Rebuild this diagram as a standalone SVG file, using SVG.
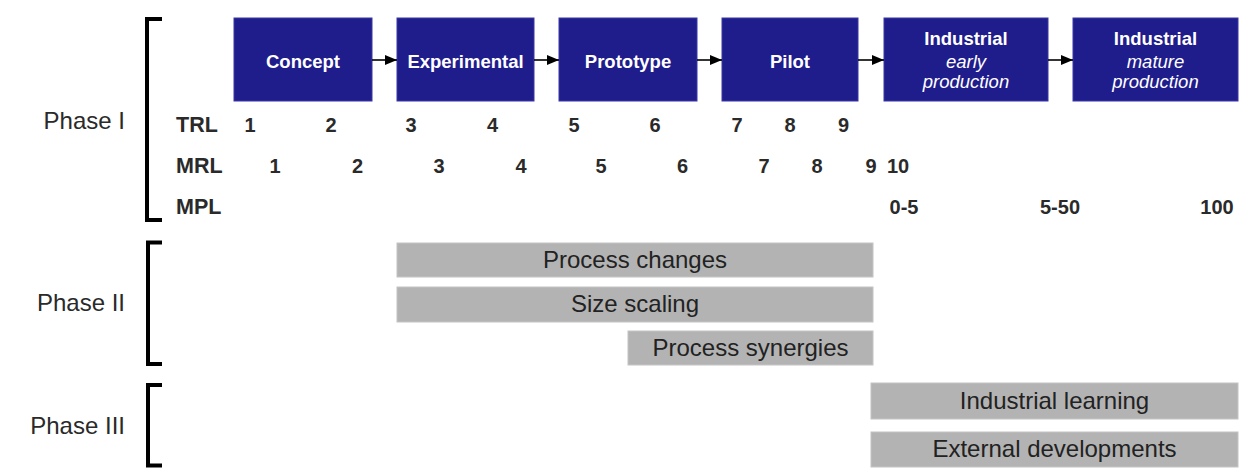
<svg xmlns="http://www.w3.org/2000/svg" width="1252" height="475" viewBox="0 0 1252 475">
  <style>
    .stage { fill: #1f1c8c; stroke: #3a38a4; stroke-width: 1; }
    .stage-title { font-family: "Liberation Sans", Arial, sans-serif; font-size: 18.5px; font-weight: bold; fill: #ffffff; text-anchor: middle; }
    .stage-sub { font-family: "Liberation Sans", Arial, sans-serif; font-size: 18.5px; font-style: italic; fill: #ffffff; text-anchor: middle; }
    .bar { fill: #b3b3b3; stroke: #c4c4c4; stroke-width: 1; }
    .bar-text { font-family: "Liberation Sans", Arial, sans-serif; font-size: 24px; fill: #222222; text-anchor: middle; }
    .phase { font-family: "Liberation Sans", Arial, sans-serif; font-size: 24px; fill: #2a2a2a; text-anchor: end; }
    .bracket { fill: none; stroke: #000000; stroke-width: 4; stroke-linejoin: miter; }
    .row-label { font-family: "Liberation Sans", Arial, sans-serif; font-size: 21.5px; font-weight: bold; fill: #2a2a2a; }
    .num { font-family: "Liberation Sans", Arial, sans-serif; font-size: 20px; font-weight: bold; fill: #2a2a2a; text-anchor: middle; }
    .link { stroke: #000000; stroke-width: 1.6; fill: none; marker-end: url(#head); }
  </style>
  <defs>
    <marker id="head" markerWidth="12" markerHeight="10" refX="12" refY="5" orient="auto" markerUnits="userSpaceOnUse">
      <path d="M0,0 L12,5 L0,10 Z" fill="#000000"/>
    </marker>
  </defs>

  <rect width="1252" height="475" fill="#ffffff"/>

  <!-- Phase brackets and labels -->
  <g id="phase-1">
    <path class="bracket" d="M162,19 H147 V220 H162"/>
    <text class="phase" x="125" y="129">Phase I</text>
  </g>
  <g id="phase-2">
    <path class="bracket" d="M162,242.5 H148 V364 H162"/>
    <text class="phase" x="125" y="311">Phase II</text>
  </g>
  <g id="phase-3">
    <path class="bracket" d="M162,385 H148 V465.5 H162"/>
    <text class="phase" x="125" y="434">Phase III</text>
  </g>

  <!-- Stage boxes -->
  <g id="concept">
    <rect class="stage" x="234" y="18" width="138" height="83"/>
    <text class="stage-title" x="303" y="68">Concept</text>
  </g>
  <g id="experimental">
    <rect class="stage" x="397" y="18" width="137" height="83"/>
    <text class="stage-title" x="465.5" y="68">Experimental</text>
  </g>
  <g id="prototype">
    <rect class="stage" x="559" y="18" width="138" height="83"/>
    <text class="stage-title" x="628" y="68">Prototype</text>
  </g>
  <g id="pilot">
    <rect class="stage" x="722" y="18" width="136" height="83"/>
    <text class="stage-title" x="790" y="68">Pilot</text>
  </g>
  <g id="industrial-early">
    <rect class="stage" x="884" y="18" width="164" height="83"/>
    <text class="stage-title" x="966" y="45">Industrial</text>
    <text class="stage-sub" x="966" y="68">early</text>
    <text class="stage-sub" x="966" y="88">production</text>
  </g>
  <g id="industrial-mature">
    <rect class="stage" x="1073" y="18" width="165" height="83"/>
    <text class="stage-title" x="1155.5" y="45">Industrial</text>
    <text class="stage-sub" x="1155.5" y="68">mature</text>
    <text class="stage-sub" x="1155.5" y="88">production</text>
  </g>

  <!-- Connectors between stages -->
  <g id="connectors">
    <line class="link" x1="372" y1="60" x2="397" y2="60"/>
    <line class="link" x1="534" y1="60" x2="559" y2="60"/>
    <line class="link" x1="697" y1="60" x2="722" y2="60"/>
    <line class="link" x1="858" y1="60" x2="884" y2="60"/>
    <line class="link" x1="1048" y1="60" x2="1073" y2="60"/>
  </g>

  <!-- Readiness scales -->
  <g id="trl">
    <text class="row-label" x="176" y="132">TRL</text>
    <text class="num" x="250" y="132">1</text>
    <text class="num" x="331" y="132">2</text>
    <text class="num" x="411" y="132">3</text>
    <text class="num" x="492.5" y="132">4</text>
    <text class="num" x="574" y="132">5</text>
    <text class="num" x="655" y="132">6</text>
    <text class="num" x="737" y="132">7</text>
    <text class="num" x="790" y="132">8</text>
    <text class="num" x="843.5" y="132">9</text>
  </g>
  <g id="mrl">
    <text class="row-label" x="176" y="173">MRL</text>
    <text class="num" x="275" y="173">1</text>
    <text class="num" x="357.5" y="173">2</text>
    <text class="num" x="439" y="173">3</text>
    <text class="num" x="521" y="173">4</text>
    <text class="num" x="601" y="173">5</text>
    <text class="num" x="682.5" y="173">6</text>
    <text class="num" x="764" y="173">7</text>
    <text class="num" x="817" y="173">8</text>
    <text class="num" x="871" y="173">9</text>
    <text class="num" x="898" y="173">10</text>
  </g>
  <g id="mpl">
    <text class="row-label" x="176" y="214">MPL</text>
    <text class="num" x="904" y="214">0-5</text>
    <text class="num" x="1060" y="214">5-50</text>
    <text class="num" x="1217" y="214">100</text>
  </g>

  <!-- Phase II activities -->
  <g id="process-changes">
    <rect class="bar" x="397" y="243" width="476" height="34"/>
    <text class="bar-text" x="635" y="268">Process changes</text>
  </g>
  <g id="size-scaling">
    <rect class="bar" x="397" y="287" width="476" height="35"/>
    <text class="bar-text" x="635" y="312">Size scaling</text>
  </g>
  <g id="process-synergies">
    <rect class="bar" x="628" y="331" width="245" height="34"/>
    <text class="bar-text" x="750.5" y="356">Process synergies</text>
  </g>

  <!-- Phase III activities -->
  <g id="industrial-learning">
    <rect class="bar" x="871" y="383" width="367" height="36"/>
    <text class="bar-text" x="1054.5" y="409">Industrial learning</text>
  </g>
  <g id="external-developments">
    <rect class="bar" x="871" y="432" width="367" height="35"/>
    <text class="bar-text" x="1054.5" y="457">External developments</text>
  </g>
</svg>
